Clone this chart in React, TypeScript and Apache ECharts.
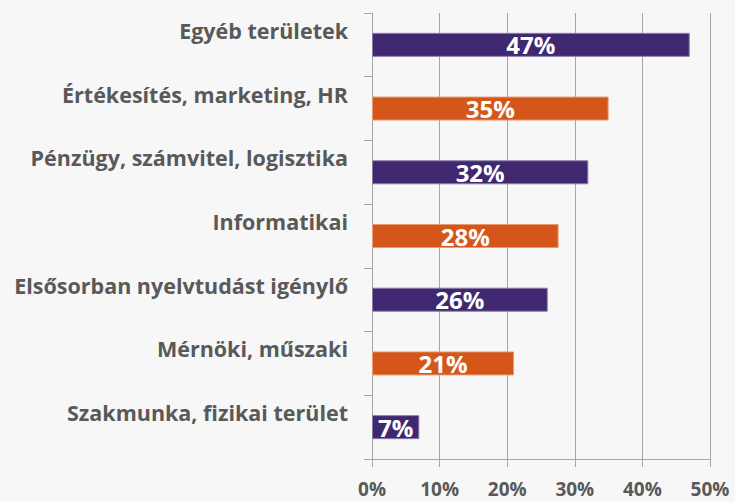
import React, { useEffect, useRef } from "react";
import * as echarts from "echarts";

const categories = [
  "Egyéb területek",
  "Értékesítés, marketing, HR",
  "Pénzügy, számvitel, logisztika",
  "Informatikai",
  "Elsősorban nyelvtudást igénylő",
  "Mérnöki, műszaki",
  "Szakmunka, fizikai terület",
];
const values = [47, 35, 32, 27.6, 26, 21, 7];
const barColors = ["#3F2870", "#D4561A", "#3F2870", "#D4561A", "#3F2870", "#D4561A", "#3F2870"];
const borderColors = ["#8A7CA8", "#E89A70", "#8A7CA8", "#E89A70", "#8A7CA8", "#E89A70", "#8A7CA8"];
const xTicks = [0, 10, 20, 30, 40, 50];

export default function App() {
  const ref = useRef<HTMLDivElement>(null);
  useEffect(() => {
    if (!ref.current) return;
    const chart = echarts.init(ref.current, null, { renderer: "svg" });
    const font = "'Open Sans', 'Noto Sans', sans-serif";
    chart.setOption({
      animation: false,
      backgroundColor: "#F7F7F7",
      grid: { left: 372, top: 13, width: 338, height: 446, containLabel: false },
      xAxis: {
        type: "value",
        min: xTicks[0],
        max: xTicks[xTicks.length - 1],
        interval: 10,
        axisLine: { show: true, lineStyle: { color: "#A6A6A6", width: 1 } },
        axisTick: { show: true, length: 8, lineStyle: { color: "#A6A6A6" } },
        splitLine: { show: true, lineStyle: { color: "#A6A6A6", width: 1 } },
        axisLabel: {
          formatter: (v: number) => v + "%",
          color: "#595959",
          fontFamily: font,
          fontWeight: "bold",
          fontSize: 19,
          margin: 20,
        },
      },
      yAxis: {
        type: "category",
        data: categories,
        inverse: true,
        axisLine: { show: true, lineStyle: { color: "#A6A6A6", width: 1 } },
        axisTick: { show: true, length: 8, alignWithLabel: false, lineStyle: { color: "#A6A6A6" } },
        axisLabel: {
          formatter: (v: string) => v + "\n ",
          color: "#595959",
          fontFamily: font,
          fontWeight: "bold",
          fontSize: 21.5,
          lineHeight: 29,
          margin: 24,
          verticalAlign: "middle",
        },
      },
      series: [
        {
          type: "bar",
          barWidth: 24,
          data: values.map((v, i) => ({
            value: v,
            itemStyle: { color: barColors[i], borderColor: borderColors[i], borderWidth: 1 },
          })),
          label: {
            show: true,
            position: "inside",
            formatter: (p: any) => Math.round(p.value) + "%",
            color: "#FFFFFF",
            fontFamily: font,
            fontWeight: "bold",
            fontSize: 24,
          },
        },
      ],
    });
    return () => chart.dispose();
  }, []);
  return (
    <div
      ref={ref}
      style={{ position: "fixed", left: 0, top: 0, width: 735, height: 502 }}
    />
  );
}
